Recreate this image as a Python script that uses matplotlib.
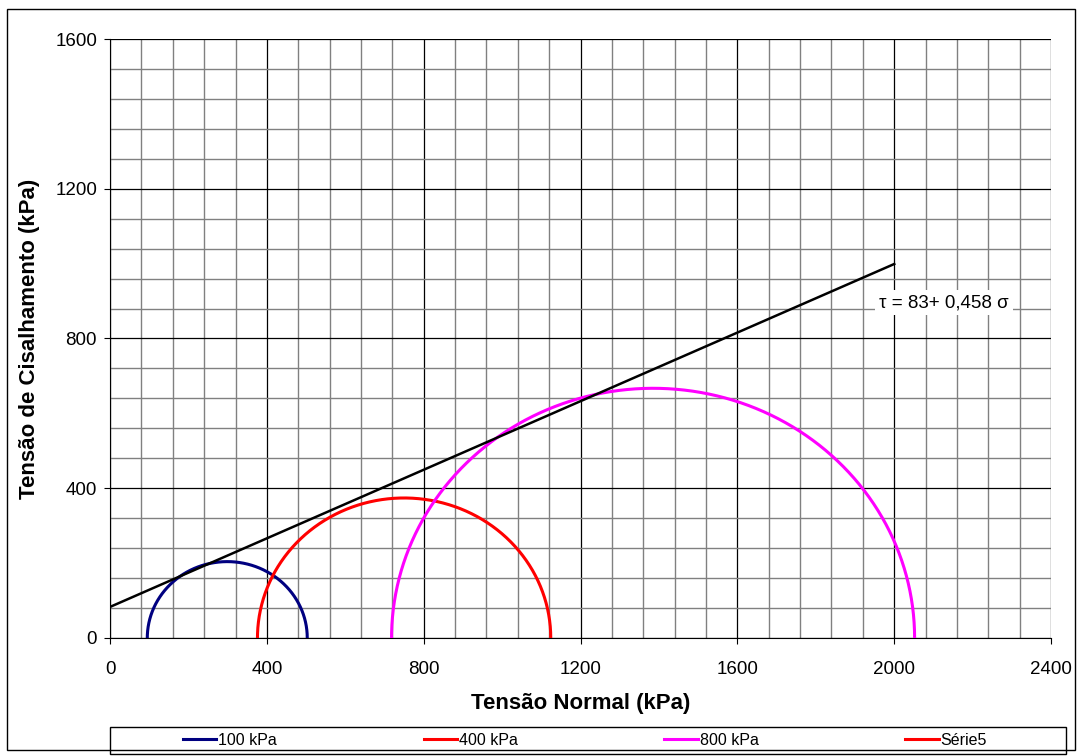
import numpy as np
import matplotlib
matplotlib.use("Agg")
import matplotlib.pyplot as plt
from matplotlib.patches import Rectangle

plt.rcParams['font.family'] = ['Liberation Sans', 'DejaVu Sans']

# Mohr circles (kPa): confining pressure label, sigma3, sigma1
labels = ['100 kPa', '400 kPa', '800 kPa']
sigma3 = [95, 376, 718]
sigma1 = [503, 1124, 2052]
colors = ['#000080', '#FF0000', '#FF00FF']

# failure envelope tau = c + tan(phi) * sigma
coesao = 83
tan_phi = 0.458
env_x = [0, 2000]

fig = plt.figure(figsize=(10.82, 7.56), dpi=100)
ax = fig.add_axes([0.1017, 0.1561, 0.8697, 0.7923])

t = np.linspace(0, np.pi, 300)
for s3, s1, c, lab in zip(sigma3, sigma1, colors, labels):
    centro = (s1 + s3) / 2.0
    raio = (s1 - s3) / 2.0
    ax.plot(centro + raio * np.cos(t), raio * np.sin(t), color=c, lw=2.2, label=lab, zorder=3)
ax.plot([], [], color='#FF0000', lw=2.2, label='Série5')

env_x = np.array(env_x)
ax.plot(env_x, coesao + tan_phi * env_x, color='black', lw=1.8, zorder=4)
ax.text(2126, 896, 'τ = 83+ 0,458 σ', fontsize=13.5, ha='center', va='center',
        bbox=dict(facecolor='white', edgecolor='none', pad=3), zorder=5)

ax.set_xlim(0, 2400)
ax.set_ylim(0, 1600)
ax.set_xticks(np.arange(0, 2401, 400))
ax.set_yticks(np.arange(0, 1601, 400))
ax.set_xticks(np.arange(0, 2401, 80), minor=True)
ax.set_yticks(np.arange(0, 1601, 80), minor=True)
ax.grid(which='minor', color='#808080', lw=1.0, zorder=0)
ax.grid(which='major', color='black', lw=0.9, zorder=1)
ax.set_axisbelow(True)
ax.tick_params(which='minor', length=0)
ax.tick_params(which='major', length=4.3, width=0.8, labelsize=13.5, direction='out')
ax.tick_params(axis='x', pad=12)
ax.tick_params(axis='y', pad=5)
for sp in ['top', 'right']:
    ax.spines[sp].set_visible(False)
for sp in ['left', 'bottom']:
    ax.spines[sp].set_color('black')

ax.set_xlabel('Tensão Normal (kPa)', fontsize=16, fontweight='bold', labelpad=11)
ax.set_ylabel('Tensão de Cisalhamento (kPa)', fontsize=16, fontweight='bold', labelpad=11)

# outer frame and legend box
fig.patches.append(Rectangle((0.0065, 0.008), 0.987, 0.980, transform=fig.transFigure,
                             fill=False, edgecolor='black', lw=1.0))
fig.patches.append(Rectangle((0.1017, 0.0026), 0.8835, 0.0357, transform=fig.transFigure,
                             fill=False, edgecolor='black', lw=1.0))
fig.legend(loc='center', bbox_to_anchor=(0.5405, 0.0205), ncol=4, frameon=False,
           fontsize=11.5, handlelength=2.1, handletextpad=0.1, columnspacing=9.2)

fig.savefig('out.png', dpi=100)
